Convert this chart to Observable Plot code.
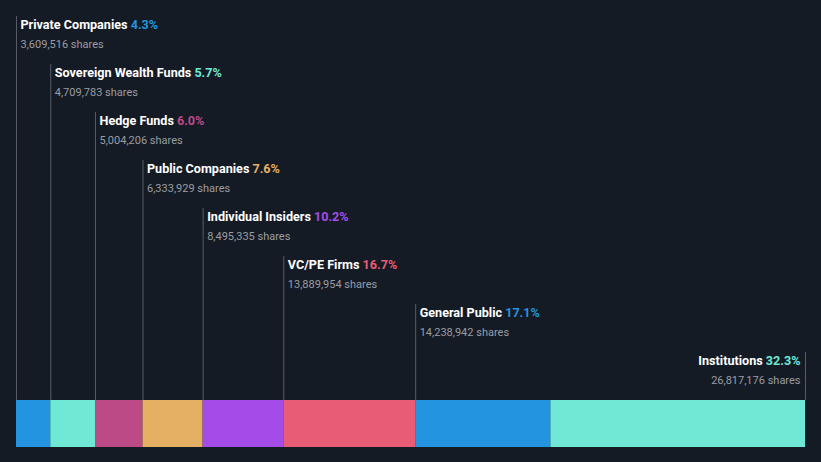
<!DOCTYPE html>
<html><head><meta charset="utf-8">
<script src="https://cdn.jsdelivr.net/npm/d3@7"></script>
<script src="https://cdn.jsdelivr.net/npm/@observablehq/plot@0.6"></script>
<style>html,body{margin:0;padding:0;background:#151b24;overflow:hidden;}</style>
</head><body><div id="chart"></div><script>
const categories = ["Private Companies","Sovereign Wealth Funds","Hedge Funds","Public Companies","Individual Insiders","VC/PE Firms","General Public","Institutions"];
const shares = [3609516, 4709783, 5004206, 6333929, 8495335, 13889954, 14238942, 26817176];
const percentLabels = ["4.3%","5.7%","6.0%","7.6%","10.2%","16.7%","17.1%","32.3%"];
const colors = ["#2394df","#6fe8d6","#bc4a87","#e5b064","#a54ce8","#e85d75","#2394df","#6fe8d6"];

const total = d3.sum(shares);
let acc = 0;
const rows = categories.map((c, i) => {
  const start = acc; acc += shares[i];
  return {name: c, shares: shares[i], pct: percentLabels[i], color: colors[i], start, end: acc, row: i, last: i === categories.length - 1};
});
const BAR_TOP = 7.8333, BAR_BOTTOM = 8.8125, LINE_LIFT = 8 / 48;
const TITLE_SIZE = 12.6;
const font = "Roboto, 'Noto Sans', sans-serif";
const ctx = document.createElement("canvas").getContext("2d");
ctx.font = `bold ${TITLE_SIZE}px Roboto`;
const measure = s => ctx.measureText(s).width;
const spaceW = measure(" ");

const labelMarks = rows.flatMap(d => {
  const nameW = measure(d.name), pctW = measure(d.pct);
  if (!d.last) {
    return [
      Plot.text([d], {x: "start", y: "row", text: "name", textAnchor: "start", dx: 4, fill: "#ffffff", fontSize: TITLE_SIZE, fontWeight: "bold"}),
      Plot.text([d], {x: "start", y: "row", text: "pct", textAnchor: "start", dx: 4 + nameW + spaceW, fill: d.color, fontSize: TITLE_SIZE, fontWeight: "bold"}),
      Plot.text([d], {x: "start", y: "row", text: r => d3.format(",")(r.shares) + " shares", textAnchor: "start", dx: 4, dy: 20, fill: "#9a9da3", fontSize: 11})
    ];
  }
  return [
    Plot.text([d], {x: "end", y: "row", text: "name", textAnchor: "end", dx: -5 - pctW - spaceW, fill: "#ffffff", fontSize: TITLE_SIZE, fontWeight: "bold"}),
    Plot.text([d], {x: "end", y: "row", text: "pct", textAnchor: "end", dx: -5, fill: d.color, fontSize: TITLE_SIZE, fontWeight: "bold"}),
    Plot.text([d], {x: "end", y: "row", text: r => d3.format(",")(r.shares) + " shares", textAnchor: "end", dx: -5, dy: 20, fill: "#9a9da3", fontSize: 11})
  ];
});

const chart = Plot.plot({
  width: 821, height: 462,
  marginLeft: 16, marginRight: 16, marginTop: 0, marginBottom: 0,
  style: {background: "#151b24", fontFamily: font, overflow: "visible"},
  x: {domain: [0, total], axis: null},
  y: {type: "linear", domain: [0, BAR_BOTTOM], range: [24, 447], axis: null},
  color: {type: "identity"},
  marks: [
    Plot.ruleX(rows, {x: d => d.last ? d.end : d.start, y1: d => d.row - LINE_LIFT, y2: BAR_TOP, stroke: "#575c66", strokeWidth: 1}),
    Plot.rectX(rows, {x1: "start", x2: "end", y1: BAR_TOP, y2: BAR_BOTTOM, fill: "color"}),
    ...labelMarks
  ]
});
document.getElementById("chart").append(chart);
</script></body></html>
